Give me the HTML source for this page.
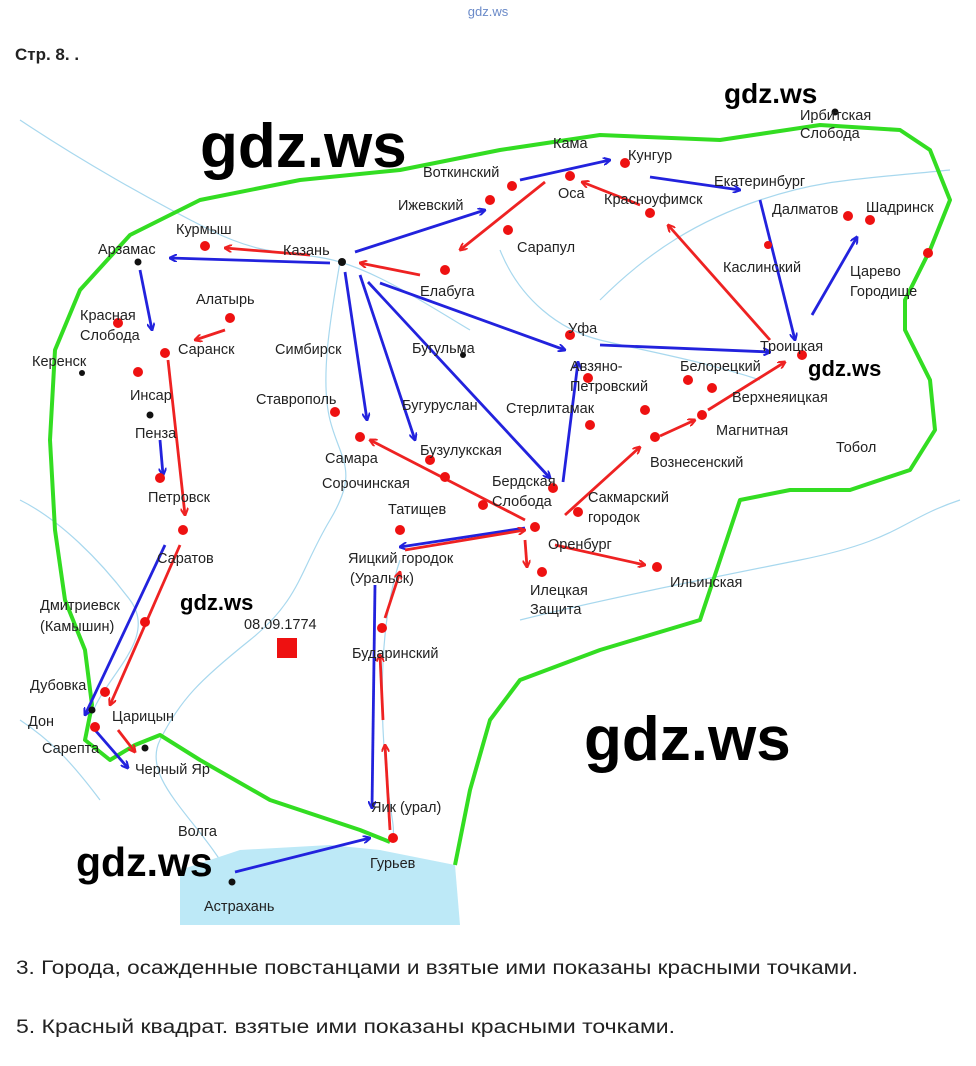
<!DOCTYPE html>
<html><head><meta charset="utf-8"><style>
body{margin:0;background:#fff;}
svg text{font-family:"Liberation Sans",sans-serif;}
</style></head><body>
<svg width="976" height="1061" xmlns="http://www.w3.org/2000/svg">
<defs>
<marker id="b" markerWidth="8" markerHeight="8" refX="7" refY="4" orient="auto" markerUnits="userSpaceOnUse" viewBox="0 0 8 8"><path d="M0,0 L8,4 L0,8" fill="none" stroke="#2222dd" stroke-width="2"/></marker>
<marker id="r" markerWidth="8" markerHeight="8" refX="7" refY="4" orient="auto" markerUnits="userSpaceOnUse" viewBox="0 0 8 8"><path d="M0,0 L8,4 L0,8" fill="none" stroke="#ee2222" stroke-width="2"/></marker>
</defs>
<rect width="976" height="1061" fill="#fff"/>
<text x="488" y="16" font-size="13" fill="#6a8ac8" text-anchor="middle">gdz.ws</text>
<text x="15" y="60" font-size="17" font-weight="bold" fill="#222">Стр. 8. .</text>
<g fill="none" stroke="#a8d8ee" stroke-width="1.2">
<path d="M20,120 C80,160 150,200 210,230 S300,250 340,262 S420,300 470,330"/>
<path d="M340,262 C330,320 320,380 330,420 S360,470 330,520 S300,600 250,640 S180,700 160,740 S200,820 232,880"/>
<path d="M400,560 C380,620 380,700 385,760 S395,820 393,840"/>
<path d="M500,250 C520,300 560,330 600,340 S700,360 760,380"/>
<path d="M20,500 C60,520 100,560 130,600 S100,680 90,720"/>
<path d="M600,300 C650,250 700,220 760,200 S850,180 950,170"/>
<path d="M20,720 C50,740 70,760 100,800"/>
<path d="M520,620 C600,600 700,580 800,560 S900,520 960,500"/>
</g>
<path d="M180,870 L240,850 L330,845 L380,850 L455,865 L460,925 L180,925 Z" fill="#bde9f7"/>
<path d="M455,865 L470,790 L490,720 L520,680 L600,650 L700,620 L740,500 L790,490 L850,490 L910,470 L935,430 L930,380 L905,330 L905,300 L930,250 L950,200 L930,150 L900,130 L820,125 L720,140 L600,135 L500,150 L400,170 L300,180 L200,200 L130,235 L80,290 L55,350 L50,440 L55,530 L65,600 L85,650 L92,705 L85,740 L110,760 L135,745 L160,735 L200,760 L270,800 L360,830 L390,842" fill="none" stroke="#33dd22" stroke-width="4" stroke-linejoin="round"/>
<g stroke="#2222dd" stroke-width="2.8" fill="none" marker-end="url(#b)">
<line x1="330" y1="263" x2="170" y2="258"/>
<line x1="140" y1="270" x2="152" y2="330"/>
<line x1="345" y1="272" x2="367" y2="420"/>
<line x1="360" y1="275" x2="415" y2="440"/>
<line x1="380" y1="283" x2="565" y2="350"/>
<line x1="368" y1="282" x2="550" y2="478"/>
<line x1="355" y1="252" x2="485" y2="210"/>
<line x1="520" y1="180" x2="610" y2="160"/>
<line x1="650" y1="177" x2="740" y2="190"/>
<line x1="760" y1="200" x2="795" y2="340"/>
<line x1="812" y1="315" x2="857" y2="237"/>
<line x1="600" y1="345" x2="770" y2="352"/>
<line x1="563" y1="482" x2="578" y2="362"/>
<line x1="160" y1="440" x2="163" y2="475"/>
<line x1="165" y1="545" x2="85" y2="715"/>
<line x1="95" y1="730" x2="128" y2="768"/>
<line x1="235" y1="872" x2="370" y2="838"/>
<line x1="375" y1="585" x2="372" y2="808"/>
<line x1="525" y1="528" x2="400" y2="547"/>
</g>
<g stroke="#ee2222" stroke-width="2.8" fill="none" marker-end="url(#r)">
<line x1="310" y1="255" x2="225" y2="248"/>
<line x1="225" y1="330" x2="195" y2="340"/>
<line x1="168" y1="360" x2="185" y2="515"/>
<line x1="180" y1="545" x2="110" y2="705"/>
<line x1="118" y1="730" x2="135" y2="752"/>
<line x1="420" y1="275" x2="360" y2="263"/>
<line x1="545" y1="182" x2="460" y2="250"/>
<line x1="640" y1="205" x2="582" y2="182"/>
<line x1="770" y1="340" x2="668" y2="225"/>
<line x1="525" y1="520" x2="370" y2="440"/>
<line x1="565" y1="515" x2="640" y2="447"/>
<line x1="660" y1="436" x2="695" y2="420"/>
<line x1="708" y1="410" x2="785" y2="362"/>
<line x1="555" y1="545" x2="645" y2="565"/>
<line x1="525" y1="540" x2="527" y2="567"/>
<line x1="405" y1="550" x2="525" y2="530"/>
<line x1="390" y1="830" x2="385" y2="745"/>
<line x1="383" y1="720" x2="380" y2="655"/>
<line x1="385" y1="618" x2="400" y2="572"/>
</g>
<g fill="#ee1111">
<circle cx="205" cy="246" r="5"/><circle cx="230" cy="318" r="5"/><circle cx="165" cy="353" r="5"/><circle cx="118" cy="323" r="5"/><circle cx="138" cy="372" r="5"/><circle cx="160" cy="478" r="5"/><circle cx="183" cy="530" r="5"/><circle cx="145" cy="622" r="5"/><circle cx="105" cy="692" r="5"/><circle cx="95" cy="727" r="5"/>
<circle cx="445" cy="270" r="5"/><circle cx="508" cy="230" r="5"/><circle cx="490" cy="200" r="5"/><circle cx="512" cy="186" r="5"/><circle cx="570" cy="176" r="5"/><circle cx="625" cy="163" r="5"/><circle cx="650" cy="213" r="5"/><circle cx="848" cy="216" r="5"/><circle cx="870" cy="220" r="5"/><circle cx="928" cy="253" r="5"/><circle cx="768" cy="245" r="4"/><circle cx="802" cy="355" r="5"/><circle cx="688" cy="380" r="5"/><circle cx="712" cy="388" r="5"/><circle cx="702" cy="415" r="5"/><circle cx="655" cy="437" r="5"/><circle cx="645" cy="410" r="5"/><circle cx="590" cy="425" r="5"/><circle cx="570" cy="335" r="5"/><circle cx="588" cy="378" r="5"/>
<circle cx="335" cy="412" r="5"/><circle cx="360" cy="437" r="5"/><circle cx="430" cy="460" r="5"/><circle cx="445" cy="477" r="5"/><circle cx="483" cy="505" r="5"/><circle cx="553" cy="488" r="5"/><circle cx="535" cy="527" r="5"/><circle cx="578" cy="512" r="5"/><circle cx="542" cy="572" r="5"/><circle cx="657" cy="567" r="5"/><circle cx="400" cy="530" r="5"/><circle cx="382" cy="628" r="5"/><circle cx="393" cy="838" r="5"/>
</g>
<rect x="277" y="638" width="20" height="20" fill="#ee1111"/>
<g fill="#111">
<circle cx="342" cy="262" r="4"/><circle cx="138" cy="262" r="3.5"/><circle cx="82" cy="373" r="3"/><circle cx="463" cy="355" r="3"/><circle cx="150" cy="415" r="3.5"/><circle cx="92" cy="710" r="3.5"/><circle cx="145" cy="748" r="3.5"/><circle cx="232" cy="882" r="3.5"/><circle cx="835" cy="112" r="3.5"/>
</g>
<g font-size="14.5" fill="#222" style="font-family:'DejaVu Sans',sans-serif">
<text x="800" y="120">Ирбитская</text><text x="800" y="138">Слобода</text>
<text x="553" y="148">Кама</text><text x="628" y="160">Кунгур</text>
<text x="423" y="177">Воткинский</text><text x="714" y="186">Екатеринбург</text>
<text x="398" y="210">Ижевский</text><text x="558" y="198">Оса</text><text x="604" y="204">Красноуфимск</text>
<text x="772" y="214">Далматов</text><text x="866" y="212">Шадринск</text>
<text x="176" y="234">Курмыш</text><text x="517" y="252">Сарапул</text>
<text x="98" y="254">Арзамас</text><text x="283" y="255">Казань</text>
<text x="723" y="272">Каслинский</text><text x="850" y="276">Царево</text><text x="850" y="296">Городище</text>
<text x="420" y="296">Елабуга</text><text x="196" y="304">Алатырь</text>
<text x="80" y="320">Красная</text><text x="80" y="340">Слобода</text>
<text x="568" y="333">Уфа</text><text x="178" y="354">Саранск</text><text x="275" y="354">Симбирск</text><text x="412" y="353">Бугульма</text>
<text x="760" y="351">Троицкая</text><text x="32" y="366">Керенск</text>
<text x="570" y="371">Авзяно-</text><text x="680" y="371">Белорецкий</text><text x="570" y="391">Петровский</text>
<text x="130" y="400">Инсар</text><text x="256" y="404">Ставрополь</text><text x="732" y="402">Верхнеяицкая</text>
<text x="402" y="410">Бугуруслан</text><text x="506" y="413">Стерлитамак</text>
<text x="135" y="438">Пенза</text><text x="716" y="435">Магнитная</text><text x="836" y="452">Тобол</text>
<text x="420" y="455">Бузулукская</text><text x="325" y="463">Самара</text><text x="650" y="467">Вознесенский</text>
<text x="322" y="488">Сорочинская</text><text x="492" y="486">Бердская</text><text x="588" y="502">Сакмарский</text>
<text x="148" y="502">Петровск</text><text x="492" y="506">Слобода</text><text x="388" y="514">Татищев</text><text x="588" y="522">городок</text>
<text x="548" y="549">Оренбург</text><text x="157" y="563">Саратов</text><text x="348" y="563">Яицкий городок</text>
<text x="350" y="583">(Уральск)</text><text x="670" y="587">Ильинская</text><text x="530" y="595">Илецкая</text>
<text x="40" y="610">Дмитриевск</text><text x="530" y="614">Защита</text>
<text x="40" y="631">(Камышин)</text><text x="244" y="629">08.09.1774</text>
<text x="352" y="658">Бударинский</text><text x="30" y="690">Дубовка</text>
<text x="112" y="721">Царицын</text><text x="28" y="726">Дон</text><text x="42" y="753">Сарепта</text>
<text x="135" y="774">Черный Яр</text><text x="371" y="812">Яик (урал)</text>
<text x="178" y="836">Волга</text><text x="370" y="868">Гурьев</text><text x="204" y="911">Астрахань</text>
</g>
<g font-weight="bold" fill="#000">
<text x="200" y="167" font-size="62">gdz.ws</text>
<text x="724" y="103" font-size="28">gdz.ws</text>
<text x="180" y="610" font-size="22">gdz.ws</text>
<text x="808" y="376" font-size="22">gdz.ws</text>
<text x="584" y="760" font-size="62">gdz.ws</text>
<text x="76" y="876" font-size="41">gdz.ws</text>
</g>
<text x="16" y="974" font-size="19" fill="#222" textLength="842" lengthAdjust="spacingAndGlyphs">3. Города, осажденные повстанцами и взятые ими показаны красными точками.</text>
<text x="16" y="1033" font-size="19" fill="#222" textLength="659" lengthAdjust="spacingAndGlyphs">5. Красный квадрат. взятые ими показаны красными точками.</text>
</svg>
</body></html>
